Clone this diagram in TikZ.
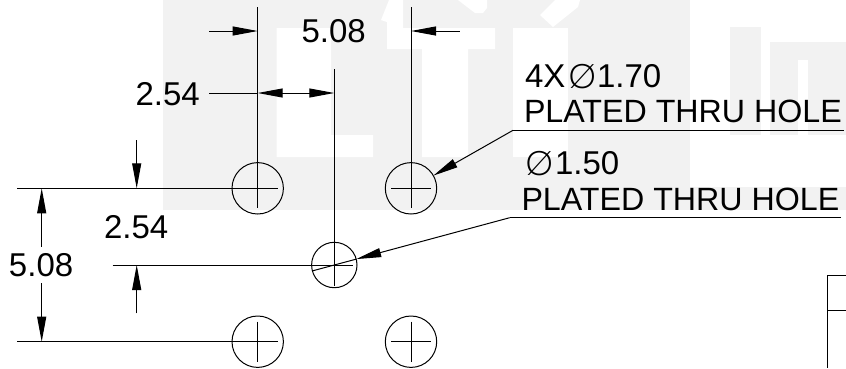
\documentclass[tikz,border=0pt]{standalone}
\usepackage{fontspec}
\setmainfont{Liberation Sans}
\newfontfamily\phifont{Poppins ExtraLight}
\usetikzlibrary{arrows.meta}
\definecolor{wm}{HTML}{F2F2F2}
\tikzset{
  x=1pt,y=-1pt,
  lbl/.style={anchor=base west,inner sep=0pt,outer sep=0pt,font=\fontsize{33pt}{33pt}\selectfont,text=black},
  lblw/.style={anchor=base west,inner sep=0pt,outer sep=0pt,font=\fontsize{32.2pt}{32.2pt}\selectfont,text=black},
  phi/.style={anchor=center,inner sep=0pt,outer sep=0pt,font=\fontsize{44pt}{44pt}\selectfont\phifont},
  hole/.style={circle,draw=black,line width=1pt,inner sep=0pt,outer sep=0pt,minimum size=#1},
  ln/.style={draw=black,line width=1pt},
  dim/.style={ln,-{Triangle[length=25pt,width=9pt]}},
  dimb/.style={ln,{Triangle[length=25pt,width=9pt]}-{Triangle[length=25pt,width=9pt]}},
}
\begin{document}
\begin{tikzpicture}
\useasboundingbox (0,0) rectangle (846,368);
% watermark
\fill[wm] (163,0) rectangle (690,186.5);
\fill[wm] (163,186.5) rectangle (846,210);
\fill[white] (276.7,28) -- (331,28) -- (331,135) -- (373,135) -- (373,157) -- (276.7,157) -- cycle;
\fill[white] (387,28) -- (495,28) -- (495,49) -- (468,49) -- (468,157) -- (422,157) -- (422,49) -- (387,49) -- cycle;
\fill[white] (513,28) rectangle (568,157);
\fill[white] (381,20) -- (389,0) -- (403,0) -- (403,28) -- (387,28) -- (387,22) -- cycle;
\fill[white] (458,0) -- (487,0) -- (487,8) -- (483,13) -- (475,13) -- cycle;
\fill[white] (540,15) -- (555,0) -- (580,0) -- (578,7) -- (553,27) -- cycle;
\fill[wm] (730,27) rectangle (761,135);
\fill[wm] (770,42) rectangle (846,135);
\fill[white] (798,60) rectangle (808,135);
% holes
\node[hole=51.4pt] (h1) at (257.7,188.3) {};
\node[hole=51.4pt] (h2) at (411,188.3) {};
\node[hole=45.4pt] (h3) at (334.3,265) {};
\node[hole=51.4pt] (h4) at (257.7,341.7) {};
\node[hole=51.4pt] (h5) at (411,341.7) {};
% centre marks
\foreach \h in {h1,h2,h4,h5}{
  \draw[ln] ([xshift=-20pt]\h.center) -- ([xshift=20pt]\h.center);
  \draw[ln] ([yshift=20pt]\h.center) -- ([yshift=-20pt]\h.center);
}
% free ends
\coordinate (t1) at (257.7,7);
\coordinate (t1b) at (257.7,69);
\coordinate (t1e) at (257.7,177);
\coordinate (t2) at (411,7);
\coordinate (t2e) at (411,177);
\coordinate (t3) at (334.3,69);
\coordinate (t3e) at (334.3,285.7);
\coordinate (e1) at (17.3,188.3);
\coordinate (e1b) at (113,188.3);
\coordinate (e1e) at (248,188.3);
\coordinate (e4) at (17.3,341.7);
\coordinate (e4e) at (248,341.7);
\coordinate (e3) at (112.5,265);
\coordinate (e3e) at (353,265);
% extension lines
\draw[ln] (t1) -- (t1e);
\draw[ln] (t1b) -- (t1e);
\draw[ln] (t2) -- (t2e);
\draw[ln] (t3) -- (t3e);
\draw[ln] (e1) -- (e1e);
\draw[ln] (e1b) -- (e1e);
\draw[ln] (e4) -- (e4e);
\draw[ln] (e3) -- (e3e);
% dimensions
\coordinate (a1s) at (209,31);
\coordinate (a1e) at (257.7,31);
\coordinate (a2s) at (459.7,31);
\coordinate (a2e) at (411,31);
\coordinate (a3s) at (209,93);
\coordinate (a3l) at (257.7,93);
\coordinate (a3r) at (334.3,93);
\coordinate (a4s) at (136.7,140);
\coordinate (a4e) at (136.7,188.3);
\coordinate (a5s) at (136.7,313.3);
\coordinate (a5e) at (136.7,265);
\coordinate (a6s) at (41.7,246.7);
\coordinate (a6e) at (41.7,188.3);
\coordinate (a7s) at (41.7,283);
\coordinate (a7e) at (41.7,341.7);
\draw[dim] (a1s) -- (a1e);
\draw[dim] (a2s) -- (a2e);
\draw[ln] (a3s) -- (a3l);
\draw[dimb] (a3l) -- (a3r);
\draw[dim] (a4s) -- (a4e);
\draw[dim] (a5s) -- (a5e);
\draw[dim] (a6s) -- (a6e);
\draw[dim] (a7s) -- (a7e);
% leaders
\coordinate (s1) at (513,130.3);
\coordinate (s1e) at (843.7,130.3);
\coordinate (s2) at (509.7,217.7);
\coordinate (s2e) at (840.7,217.7);
\coordinate (s2t) at (312.7,270.8);
\draw[ln] (s1e) -- (s1);
\draw[dim] (s1) -- (h2);
\draw[ln] (s2e) -- (s2);
\draw[dim] (s2) -- (h3);
\draw[ln] (h3.15) -- (s2t);
% right-hand box
\coordinate (b1) at (846,275.7);
\coordinate (b2) at (827.3,275.7);
\coordinate (b3) at (827.3,368);
\coordinate (b4) at (827.3,310);
\coordinate (b5) at (846,310);
\draw[ln] (b1) -- (b2) -- (b3);
\draw[ln] (b4) -- (b5);
% labels
\node[lbl] (d1) at (301.5,42.7) {5.08};
\node[lbl] (d2) at (135.5,105) {2.54};
\node[lbl] (d3) at (104,238) {2.54};
\node[lbl] (d4) at (9,276.3) {5.08};
\node[lbl] (n1) at (525,87.7) {4X};
\node[phi] (p1) at (582.3,76.3) {ø};
\node[lbl] (n2) at (597,87.7) {1.70};
\node[lblw] (n3) at (524,122.3) {PLATED THRU HOLE};
\node[phi] (p2) at (540,163.3) {ø};
\node[lbl] (n4) at (555,174.7) {1.50};
\node[lblw] (n5) at (521.5,210.7) {PLATED THRU HOLE};
\end{tikzpicture}
\end{document}
